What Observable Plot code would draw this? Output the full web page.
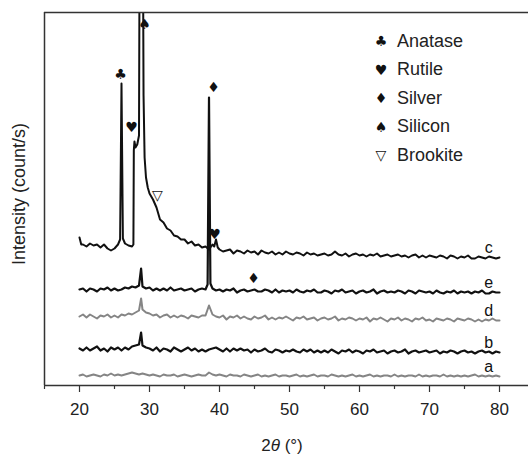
<!DOCTYPE html>
<html><head><meta charset="utf-8">
<script src="https://cdn.jsdelivr.net/npm/d3@7"></script>
<script src="https://cdn.jsdelivr.net/npm/@observablehq/plot@0.6"></script>
<style>body{margin:0;background:#fff}#chart svg{display:block}</style>
</head><body><div id="chart"></div>
<script>
// sampling grid: 20° .. 80°, 0.5° step (121 points per trace)
const gridStart = 20, gridStep = 0.5;
const majorTicks = [20, 30, 40, 50, 60, 70, 80];
const minorTicks = [15, 25, 35, 45, 55, 65, 75];

// intensity (arbitrary units, stacked traces)
const traceA = [
  10,11,9,10,11,10,9,11,10,12,
  10,11,10,11,12,13,12,11,12,11,
  10,11,10,9,11,10,10,11,9,10,
  11,10,9,10,11,10,10,13,11,10,
  11,10,9,11,10,10,9,11,10,9,
  10,11,9,10,9,10,11,9,10,10,
  9,10,11,9,10,9,10,11,9,10,
  10,9,11,10,9,10,9,10,11,9,
  10,9,10,11,9,10,9,10,10,9,
  11,9,10,9,10,10,9,11,9,10,
  9,10,10,9,11,9,10,9,10,9,
  10,9,10,11,9,10,9,10,9,10,
  9];
const traceB = [
  37,35,38,35,37,39,35,37,34,38,
  36,38,35,38,36,39,40,41,40,38,
  37,35,38,34,37,36,34,38,36,34,
  36,38,35,37,34,36,34,36,37,38,
  36,34,37,34,37,35,37,35,36,33,
  36,34,35,37,34,33,36,35,33,35,
  34,36,34,33,36,34,36,33,35,33,
  35,33,36,34,32,35,34,36,33,35,
  34,32,35,34,36,33,34,35,32,34,
  35,33,34,36,32,34,35,33,34,35,
  33,34,35,32,34,33,35,34,32,34,
  35,33,34,32,34,35,33,34,32,34,
  33];
const traceD = [
  69,71,68,71,69,67,70,69,71,68,
  70,68,71,70,72,71,73,75,76,73,
  72,70,71,68,70,71,68,70,68,70,
  69,67,70,69,68,70,70,80,71,69,
  68,70,66,69,68,70,67,69,67,66,
  69,67,68,70,66,68,66,68,67,69,
  67,65,68,67,69,66,67,68,65,67,
  68,66,67,69,65,67,66,68,67,65,
  67,66,68,64,67,66,68,66,64,67,
  66,68,65,67,66,64,67,66,68,65,
  66,64,67,66,65,67,66,64,67,66,
  65,67,66,64,66,64,66,65,67,65,
  65];
const traceE = [
  96,97,94,97,96,94,97,96,98,95,
  97,95,96,98,97,99,98,100,99,97,
  98,95,97,95,97,95,98,95,96,97,
  95,96,97,94,96,97,96,288,97,95,
  96,94,96,95,97,93,95,96,94,95,
  96,94,94,96,95,93,96,93,95,94,
  95,93,96,94,93,95,94,96,93,93,
  95,94,92,95,94,96,93,94,95,92,
  94,95,93,94,96,92,94,95,93,94,
  93,95,94,92,95,94,92,95,94,93,
  94,92,95,93,92,94,93,95,92,94,
  93,94,92,94,93,95,92,92,94,93,
  93];
const traceC = [
  148,141,139,142,140,141,138,141,137,135,
  137,141,302,142,140,139,238,250,560,208,
  192,186,178,166,163,157,155,150,149,146,
  146,142,144,140,141,138,139,136,141,146,
  136,134,135,136,132,135,134,132,135,133,
  134,131,135,133,132,134,131,133,131,134,
  132,131,133,132,130,133,131,132,130,131,
  132,130,131,134,131,130,132,129,131,132,
  130,131,129,131,130,132,129,130,131,129,
  130,131,129,130,128,130,131,128,130,128,
  130,129,128,130,129,127,130,129,127,129,
  128,130,127,127,129,128,127,129,128,127,
  128];

// extra points [2θ, intensity] resolving narrow peaks
const peaksA = [];
const peaksB = [[28.8, 53]];
const peaksD = [[28.8, 87]];
const peaksE = [[28.8, 117], [38.3, 101], [38.7, 102]];
const peaksC = [[20.25, 141], [25.8, 146], [26.2, 147], [27.7, 141], [27.76, 235], [27.85, 244],
  [28.25, 241], [28.7, 700], [28.85, 900], [29.15, 290], [29.3, 228], [29.75, 198],
  [39.25, 139], [39.75, 138]];

const seriesNames = ["a", "b", "d", "e", "c"];
const seriesColors = ["#858585", "#111", "#858585", "#111", "#111"];
const seriesWidths = [1.9, 2.2, 2.0, 2.2, 2.0];

// phase markers: symbol, 2θ, intensity
const markSymbols = ["\u2663", "\u2665", "\u2660", "\u25BD", "\u2666", "\u2665", "\u2666"];
const markTheta = [25.86, 27.43, 29.29, 31.14, 39.14, 39.29, 44.86];
const markInt = [311, 258, 361, 190, 298, 151, 107];

const legendSymbols = ["\u2663", "\u2665", "\u2666", "\u2660", "\u25BD"];
const legendLabels = ["Anatase", "Rutile", "Silver", "Silicon", "Brookite"];

function build(name, values, extra) {
  const pts = values.map((v, i) => ({x: gridStart + i * gridStep, y: v, s: name}));
  extra.forEach(([x, y]) => pts.push({x, y, s: name}));
  pts.sort((p, q) => p.x - q.x);
  return pts;
}
const traces = [
  build("a", traceA, peaksA),
  build("b", traceB, peaksB),
  build("d", traceD, peaksD),
  build("e", traceE, peaksE),
  build("c", traceC, peaksC)
];
const seriesLabels = traces.map((t, i) => ({name: seriesNames[i], x: 78.45, y: t[t.length - 1].y}));
const markers = markSymbols.map((s, i) => ({s, x: markTheta[i], y: markInt[i]}));

const frame = "#333";
const plot = Plot.plot({
  width: 528, height: 454,
  marginLeft: 44, marginRight: 0, marginTop: 12, marginBottom: 69,
  style: {fontFamily: "'Liberation Sans', Arial, sans-serif", fontSize: "17px", color: "#222", background: "#fff", overflow: "visible"},
  x: {domain: [15, 84.143], label: null},
  y: {domain: [0, 373], axis: null},
  marks: [
    ...traces.map((t, i) => Plot.line(t, {x: "x", y: "y", stroke: seriesColors[i], strokeWidth: seriesWidths[i], clip: true, strokeLinejoin: "round"})),
    Plot.ruleX([15], {stroke: frame, strokeWidth: 1.5}),
    Plot.ruleY([0], {stroke: frame, strokeWidth: 1.5}),
    Plot.ruleY([373], {stroke: frame, strokeWidth: 1.5}),
    Plot.axisX({ticks: majorTicks, tickSize: 7, tickPadding: 10, fontSize: 17, label: null, stroke: frame, strokeWidth: 1.2}),
    Plot.axisX({ticks: minorTicks, tickSize: 4, tickFormat: () => "", label: null, stroke: frame, strokeWidth: 1.2}),
    Plot.text(markers, {x: "x", y: "y", text: "s", fontFamily: "DejaVu Sans", fontSize: 14, fill: "#111"}),
    Plot.text(seriesLabels, {x: "x", y: "y", text: "name", dy: -10, fontSize: 16, fill: "#111"})
  ]
});
document.getElementById("chart").appendChild(plot);

const svg = d3.select(plot);
const xt = svg.append("text").attr("x", 282).attr("y", 447).attr("text-anchor", "middle")
  .attr("dominant-baseline", "middle").attr("font-size", 17).attr("fill", "#222");
xt.append("tspan").text("2");
xt.append("tspan").attr("font-style", "italic").text("\u03B8");
xt.append("tspan").text(" (\u00B0)");
svg.append("text").attr("transform", "translate(20,194) rotate(-90)").attr("text-anchor", "middle")
  .attr("dominant-baseline", "middle").attr("font-size", 18).attr("fill", "#222").text("Intensity (count/s)");
const lg = svg.append("g");
legendLabels.forEach((lab, i) => {
  const yy = 42 + i * 28.5;
  lg.append("text").attr("x", 381).attr("y", yy).attr("text-anchor", "middle").attr("dominant-baseline", "middle")
    .attr("font-family", "DejaVu Sans").attr("font-size", 14).attr("fill", "#111").text(legendSymbols[i]);
  lg.append("text").attr("x", 397).attr("y", yy).attr("text-anchor", "start").attr("dominant-baseline", "middle")
    .attr("font-size", 18).attr("fill", "#222").text(lab);
});
</script>
</body></html>
